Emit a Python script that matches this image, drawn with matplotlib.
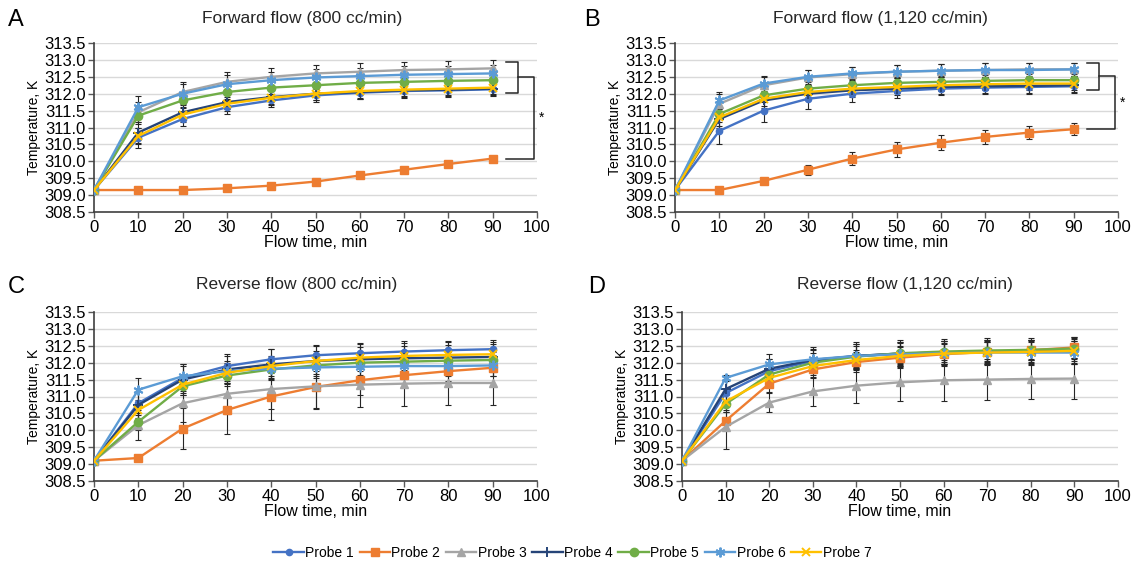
import numpy as np
import matplotlib
matplotlib.use("Agg")
import matplotlib.pyplot as plt

plt.rcParams['font.family'] = ['Liberation Sans', 'DejaVu Sans']

# flow time (min)
flow_time = [0, 10, 20, 30, 40, 50, 60, 70, 80, 90]

probe_names = ["Probe 1", "Probe 2", "Probe 3", "Probe 4", "Probe 5", "Probe 6", "Probe 7"]

# temperatures (K), one list per probe
fwd_800 = [
    [309.15, 310.70, 311.25, 311.60, 311.80, 311.95, 312.03, 312.08, 312.10, 312.13],
    [309.15, 309.15, 309.15, 309.20, 309.28, 309.40, 309.58, 309.75, 309.92, 310.08],
    [309.15, 311.45, 312.05, 312.35, 312.50, 312.60, 312.65, 312.70, 312.72, 312.75],
    [309.15, 310.85, 311.45, 311.75, 311.90, 312.00, 312.05, 312.10, 312.12, 312.15],
    [309.15, 311.35, 311.80, 312.05, 312.18, 312.25, 312.32, 312.35, 312.38, 312.40],
    [309.15, 311.60, 312.00, 312.28, 312.40, 312.48, 312.52, 312.56, 312.58, 312.60],
    [309.15, 310.75, 311.38, 311.70, 311.88, 312.00, 312.08, 312.12, 312.15, 312.18],
]
fwd_800_err = [
    [0, 0.30, 0.20, 0.20, 0.20, 0.20, 0.20, 0.20, 0.20, 0.20],
    [0, 0.03, 0.03, 0.03, 0.03, 0.03, 0.03, 0.04, 0.05, 0.05],
    [0, 0.30, 0.30, 0.28, 0.25, 0.25, 0.25, 0.25, 0.25, 0.25],
    [0, 0.30, 0.22, 0.20, 0.20, 0.20, 0.20, 0.20, 0.20, 0.20],
    [0, 0.25, 0.22, 0.20, 0.20, 0.20, 0.20, 0.20, 0.20, 0.20],
    [0, 0.32, 0.30, 0.28, 0.25, 0.25, 0.25, 0.25, 0.25, 0.25],
    [0, 0.25, 0.22, 0.20, 0.20, 0.20, 0.20, 0.20, 0.20, 0.20],
]

fwd_1120 = [
    [309.15, 310.90, 311.50, 311.85, 312.00, 312.08, 312.15, 312.18, 312.20, 312.22],
    [309.15, 309.15, 309.42, 309.75, 310.08, 310.35, 310.55, 310.72, 310.85, 310.95],
    [309.15, 311.70, 312.25, 312.48, 312.58, 312.65, 312.68, 312.70, 312.72, 312.72],
    [309.15, 311.25, 311.80, 312.00, 312.10, 312.15, 312.20, 312.22, 312.23, 312.25],
    [309.15, 311.40, 311.95, 312.15, 312.25, 312.32, 312.35, 312.38, 312.40, 312.40],
    [309.15, 311.80, 312.30, 312.50, 312.60, 312.65, 312.68, 312.70, 312.70, 312.72],
    [309.15, 311.30, 311.85, 312.05, 312.15, 312.20, 312.25, 312.28, 312.30, 312.30],
]
fwd_1120_err = [
    [0, 0.40, 0.35, 0.30, 0.25, 0.20, 0.20, 0.20, 0.20, 0.20],
    [0, 0.03, 0.05, 0.15, 0.20, 0.22, 0.22, 0.20, 0.18, 0.17],
    [0, 0.30, 0.25, 0.22, 0.20, 0.20, 0.20, 0.20, 0.20, 0.20],
    [0, 0.25, 0.22, 0.20, 0.20, 0.20, 0.20, 0.20, 0.20, 0.20],
    [0, 0.25, 0.20, 0.20, 0.18, 0.18, 0.18, 0.18, 0.18, 0.18],
    [0, 0.25, 0.22, 0.20, 0.20, 0.20, 0.20, 0.20, 0.20, 0.20],
    [0, 0.25, 0.20, 0.20, 0.18, 0.18, 0.18, 0.18, 0.18, 0.18],
]

rev_800 = [
    [309.10, 310.80, 311.55, 311.90, 312.10, 312.22, 312.28, 312.33, 312.37, 312.40],
    [309.10, 309.18, 310.05, 310.60, 311.00, 311.28, 311.48, 311.63, 311.75, 311.85],
    [309.10, 310.15, 310.80, 311.08, 311.22, 311.30, 311.35, 311.38, 311.40, 311.40],
    [309.10, 310.75, 311.50, 311.80, 311.95, 312.05, 312.10, 312.13, 312.15, 312.17],
    [309.10, 310.25, 311.30, 311.62, 311.80, 311.92, 312.00, 312.03, 312.06, 312.08],
    [309.10, 311.20, 311.60, 311.75, 311.82, 311.86, 311.88, 311.90, 311.90, 311.92],
    [309.10, 310.60, 311.35, 311.70, 311.90, 312.05, 312.15, 312.20, 312.23, 312.25],
]
rev_800_err = [
    [0, 0.35, 0.40, 0.35, 0.30, 0.30, 0.30, 0.30, 0.28, 0.28],
    [0, 0.03, 0.60, 0.70, 0.70, 0.65, 0.45, 0.35, 0.30, 0.25],
    [0, 0.45, 0.55, 0.60, 0.60, 0.65, 0.65, 0.65, 0.65, 0.65],
    [0, 0.40, 0.40, 0.40, 0.45, 0.45, 0.45, 0.45, 0.45, 0.45],
    [0, 0.25, 0.25, 0.25, 0.25, 0.25, 0.25, 0.25, 0.25, 0.25],
    [0, 0.35, 0.35, 0.30, 0.30, 0.30, 0.30, 0.30, 0.30, 0.30],
    [0, 0.30, 0.30, 0.30, 0.30, 0.30, 0.30, 0.30, 0.30, 0.30],
]

rev_1120 = [
    [309.10, 311.10, 311.75, 312.05, 312.20, 312.27, 312.30, 312.32, 312.33, 312.35],
    [309.10, 310.28, 311.38, 311.80, 312.02, 312.15, 312.25, 312.32, 312.37, 312.45],
    [309.10, 310.10, 310.82, 311.15, 311.32, 311.42, 311.48, 311.50, 311.52, 311.53],
    [309.10, 311.22, 311.82, 312.08, 312.20, 312.27, 312.30, 312.32, 312.33, 312.35],
    [309.10, 310.78, 311.65, 312.00, 312.18, 312.28, 312.33, 312.36, 312.38, 312.42],
    [309.10, 311.55, 311.95, 312.10, 312.20, 312.25, 312.28, 312.30, 312.30, 312.30],
    [309.10, 310.85, 311.55, 311.90, 312.08, 312.20, 312.27, 312.30, 312.32, 312.35],
]
rev_1120_err = [
    [0, 0.35, 0.35, 0.35, 0.40, 0.40, 0.40, 0.40, 0.40, 0.40],
    [0, 0.25, 0.25, 0.25, 0.30, 0.30, 0.30, 0.30, 0.30, 0.30],
    [0, 0.65, 0.28, 0.42, 0.50, 0.55, 0.60, 0.60, 0.60, 0.60],
    [0, 0.35, 0.30, 0.30, 0.35, 0.35, 0.35, 0.35, 0.35, 0.35],
    [0, 0.25, 0.25, 0.30, 0.30, 0.30, 0.30, 0.30, 0.30, 0.30],
    [0, 0.10, 0.30, 0.35, 0.35, 0.35, 0.35, 0.35, 0.35, 0.35],
    [0, 0.25, 0.25, 0.25, 0.30, 0.30, 0.30, 0.30, 0.30, 0.30],
]

titles = ["Forward flow (800 cc/min)", "Forward flow (1,120 cc/min)",
          "Reverse flow (800 cc/min)", "Reverse flow (1,120 cc/min)"]
letters = ["A", "B", "C", "D"]
panel_data = [fwd_800, fwd_1120, rev_800, rev_1120]
panel_err = [fwd_800_err, fwd_1120_err, rev_800_err, rev_1120_err]

colors = ["#4472C4", "#ED7D31", "#A5A5A5", "#264478", "#70AD47", "#5B9BD5", "#FFC000"]
markers = ["o", "s", "^", "+", "o", (6, 2, 0), "x"]
msizes = [4.5, 6, 6, 7, 6, 7, 6]

fig = plt.figure(figsize=(11.45, 5.67), dpi=100)
W, H = 1145, 567
# axes boxes in pixels: left, top, right, bottom
boxes = [(94, 43, 537, 212), (675, 43, 1118, 212), (94, 312, 537, 481), (682, 312, 1118, 481)]
title_pos = [(302, 18), (880, 18), (297, 285), (905, 285)]
letter_pos = [(8, 20), (584, 20), (8, 287), (588, 287)]

handles = []
for k in range(4):
    l, t, r, b = boxes[k]
    ax = fig.add_axes([l / W, 1 - b / H, (r - l) / W, (b - t) / H])
    for i in range(7):
        y = np.array(panel_data[k][i])
        e = np.array(panel_err[k][i])
        ax.errorbar(flow_time, y, yerr=e, fmt='none', ecolor='#262626', elinewidth=0.8,
                    capsize=2.5, capthick=0.8, zorder=2)
        thin = markers[i] in ["+", "x", (6, 2, 0)]
        h, = ax.plot(flow_time, y, color=colors[i], lw=1.7, marker=markers[i], ms=msizes[i],
                     mfc=colors[i], mec=colors[i], mew=1.4 if thin else 1,
                     zorder=3 + i)
        if k == 0:
            handles.append(h)
    ax.set_xlim(0, 100)
    ax.set_ylim(308.5, 313.5)
    ax.set_xticks(range(0, 101, 10))
    ax.set_yticks(np.arange(308.5, 313.51, 0.5))
    ax.set_yticklabels([f"{v:.1f}" for v in np.arange(308.5, 313.51, 0.5)])
    ax.tick_params(labelsize=12, length=4, width=1, color='#595959', pad=2)
    ax.yaxis.grid(True, color='#d9d9d9', lw=1)
    ax.set_axisbelow(True)
    for s in ['top', 'right']:
        ax.spines[s].set_visible(False)
    for s in ['left', 'bottom']:
        ax.spines[s].set_color('#404040')
        ax.spines[s].set_linewidth(1.2)
    ax.set_ylabel("Temperature, K", fontsize=10, labelpad=2)
    ax.set_xlabel("Flow time, min", fontsize=11.5, labelpad=0)
    fig.text(title_pos[k][0] / W, 1 - title_pos[k][1] / H, titles[k], fontsize=12.5,
             ha='center', va='center', color='#262626')
    fig.text(letter_pos[k][0] / W, 1 - letter_pos[k][1] / H, letters[k], fontsize=17,
             ha='left', va='center')

    # significance brackets on the forward flow panels
    if k < 2:
        last = [panel_data[k][i][-1] for i in range(7)]
        others = [v for i, v in enumerate(last) if i != 1]
        top = max(others) + 0.2
        bot = min(others) - 0.12
        mid = (top + bot) / 2
        low = last[1]
        x0, x1, x2 = 93, 95.8, 99.3
        kw = dict(color='#262626', lw=1.1, clip_on=False)
        ax.plot([x0, x1, x1, x0], [top, top, bot, bot], **kw)
        ax.plot([x1, x2, x2, x0], [mid, mid, low, low], **kw)
        ax.text(x2 + 1.2, (mid + low) / 2, "*", fontsize=10, ha='left', va='center',
                clip_on=False)

fig.legend(handles, probe_names, loc='center', bbox_to_anchor=(0.5, 1 - 553 / H), ncol=7,
           frameon=False, fontsize=10, handlelength=2.2, handletextpad=0.1, columnspacing=0.4)

fig.savefig("out.png", dpi=100)
